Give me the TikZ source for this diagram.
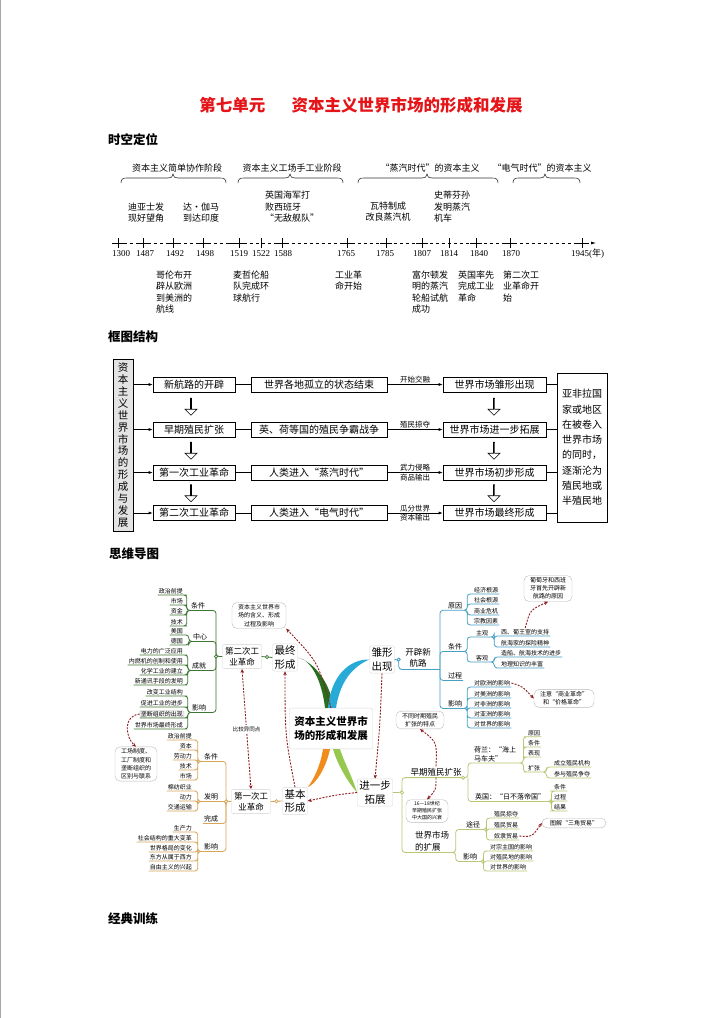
\documentclass[tikz,border=0pt]{standalone}
\usepackage{fontspec}
\setmainfont{Noto Sans CJK SC}
\newfontfamily\numfont{Liberation Serif}
\usetikzlibrary{arrows.meta,shapes.arrows,calc}

\definecolor{titred}{RGB}{228,20,24}
\definecolor{lnkred}{RGB}{140,28,32}
\definecolor{brgreen}{RGB}{40,110,30}
\definecolor{twgreen}{RGB}{62,118,52}
\definecolor{brblue}{RGB}{40,170,215}
\definecolor{twblue}{RGB}{70,160,195}
\definecolor{brorange}{RGB}{240,140,30}
\definecolor{tworange}{RGB}{215,165,90}
\definecolor{brlime}{RGB}{150,200,80}
\definecolor{twlime}{RGB}{185,198,115}

\begin{document}
\begin{tikzpicture}[x=1pt,y=1pt,yscale=-1,
	>={Stealth[length=4pt,width=3.5pt]},
	head/.style={font=\fontsize{12.5}{14}\selectfont\bfseries, anchor=west, inner sep=0pt},
	stage/.style={font=\fontsize{9}{11}\selectfont, inner sep=0pt},
	brc/.style={line width=0.6pt, draw=black!80},
	evt/.style={font=\fontsize{9}{11.4}\selectfont, align=left, inner sep=0pt},
	yr/.style={font=\numfont\fontsize{9}{10}\selectfont, inner sep=0pt},
	axis/.style={line width=0.6pt, dash pattern=on 3pt off 3pt, -{Latex[length=5pt,width=3pt]}},
	tick/.style={line width=0.6pt},
	lbox/.style={draw, line width=0.6pt, fill=gray!22, minimum width=20pt, minimum height=172pt, inner sep=2pt, align=center, font=\fontsize{10.5}{11.9}\selectfont},
	fbox/.style={draw, line width=0.6pt, minimum height=15pt, inner sep=1pt, font=\fontsize{10}{12}\selectfont},
	colA/.style={fbox, minimum width=82pt},
	colB/.style={fbox, minimum width=136pt},
	colC/.style={fbox, minimum width=103pt},
	rbox/.style={draw, line width=0.6pt, minimum width=50pt, minimum height=149pt, align=center, font=\fontsize{10}{15.3}\selectfont},
	lab/.style={font=\fontsize{7.5}{9}\selectfont, inner sep=1pt},
	fl/.style={line width=0.6pt, -{Latex[length=4pt,width=3pt]}},
	hol/.style={single arrow, draw, line width=0.6pt, shape border rotate=270, minimum height=17pt, minimum width=12pt, single arrow head extend=3pt, single arrow head indent=0pt, inner sep=0pt},
	leaf/.style={font=\fontsize{6}{7}\selectfont, inner sep=1pt},
	leafbox/.style={leaf, draw=gray!45, fill=gray!8, rounded corners=1.5pt},
	sub/.style={font=\fontsize{7}{9}\selectfont, inner sep=1pt, align=left},
	mid/.style={font=\fontsize{8.5}{11.5}\selectfont, align=center, inner sep=1.5pt},
	midbox/.style={mid, draw=gray!35, rounded corners=2pt, fill=white, inner sep=2.5pt},
	main/.style={font=\fontsize{10.5}{13.5}\selectfont, align=center, draw=gray!30, rounded corners=2pt, fill=white, inner sep=2pt},
	ctrbox/.style={font=\fontsize{10.5}{14.5}\selectfont\bfseries, align=center, draw=gray!30, fill=white, rounded corners=2pt, inner xsep=5pt, inner ysep=8pt},
	note/.style={font=\fontsize{6}{8.2}\selectfont, align=center, draw=gray!55, rounded corners=5pt, fill=white, inner xsep=6pt, inner ysep=2pt},
	twigG/.style={draw=twgreen, line width=0.8pt, rounded corners=3pt},
	twigB/.style={draw=twblue, line width=0.8pt, rounded corners=3pt},
	twigO/.style={draw=tworange, line width=0.8pt, rounded corners=3pt},
	twigL/.style={draw=twlime, line width=0.8pt, rounded corners=3pt},
	link/.style={draw=lnkred, line width=0.9pt, dash pattern=on 2pt off 1.3pt, ->}
	]
	\useasboundingbox (0,0) rectangle (720,1018);
	\draw[gray!70, line width=1pt] (0.5,0) -- (0.5,1018);
	
	% Title
	\node[font=\fontsize{16.5}{18}\selectfont\bfseries, text=titred, inner sep=0pt] (title) at (361,105) {第七单元\hspace{1.6em}资本主义世界市场的形成和发展};
	% Headings
	\node[head] (hd1) at (108,140) {时空定位};
	\node[head] (hd2) at (108,337) {框图结构};
	\node[head] (hd3) at (109,554) {思维导图};
	\node[head] (hd4) at (108,919) {经典训练};
	
	%%%%%%%% Time line %%%%%%%%
	% Stage Text
	\node[stage] (st1) at (177,168) {资本主义简单协作阶段};
	\node[stage] (st2) at (292,168) {资本主义工场手工业阶段};
	\node[stage] (st3) at (430,168) {“蒸汽时代”的资本主义};
	\node[stage] (st4) at (542,168) {“电气时代”的资本主义};
	% Braces
	\draw[brc] (121,183) .. controls (121,179) and (123,178) .. (127,178) -- (168,178) .. controls (171,178) and (173,177) .. (173,174) .. controls (173,177) and (175,178) .. (178,178) -- (220,178) .. controls (224,178) and (226,179) .. (226,183);
	\draw[brc] (238,183) .. controls (238,179) and (240,178) .. (244,178) -- (285,178) .. controls (288,178) and (290,177) .. (290,174) .. controls (290,177) and (292,178) .. (295,178) -- (337,178) .. controls (341,178) and (343,179) .. (343,183);
	\draw[brc] (358,183) .. controls (358,179) and (360,178) .. (364,178) -- (422,178) .. controls (425,178) and (427,177) .. (427,174) .. controls (427,177) and (429,178) .. (432,178) -- (492,178) .. controls (496,178) and (498,179) .. (498,183);
	\draw[brc] (513,183) .. controls (513,179) and (515,178) .. (519,178) -- (540,178) .. controls (543,178) and (545,177) .. (545,174) .. controls (545,177) and (547,178) .. (550,178) -- (574,178) .. controls (578,178) and (580,179) .. (580,183);
	
	% Events above
	\node[evt, anchor=south west] (e1) at (128,222.5) {迪亚士发\\现好望角};
	\node[evt, anchor=south west] (e2) at (183,222.5) {达·伽马\\到达印度};
	\node[evt, anchor=south west] (e3) at (265,222.5) {英国海军打\\败西班牙\\“无敌舰队”};
	\node[evt, anchor=south, align=center] (e4) at (388,221.5) {瓦特制成\\改良蒸汽机};
	\node[evt, anchor=south west] (e5) at (434,222.5) {史蒂芬孙\\发明蒸汽\\机车};
	
	% Axis
	\draw[axis] (112,243) -- (596,243);
	\draw[tick] (226,243) -- (239,243);
	\draw[tick] (118,238) -- (118,248) (112,243) -- (124,243);
	\draw[tick] (143,238) -- (143,248) (137,243) -- (149,243);
	\draw[tick] (173,238) -- (173,248) (167,243) -- (179,243);
	\draw[tick] (203,238) -- (203,248) (197,243) -- (209,243);
	\draw[tick] (239,238) -- (239,248) (233,243) -- (245,243);
	\draw[tick] (261,238) -- (261,248);
	\draw[tick] (282,238) -- (282,248) (276,243) -- (288,243);
	\draw[tick] (347,238) -- (347,248) (341,243) -- (353,243);
	\draw[tick] (386,238) -- (386,248) (380,243) -- (392,243);
	\draw[tick] (422,238) -- (422,248) (416,243) -- (428,243);
	\draw[tick] (449,238) -- (449,248);
	\draw[tick] (476,238) -- (476,248) (470,243) -- (482,243);
	\draw[tick] (510,238) -- (510,248) (504,243) -- (516,243);
	\draw[tick] (582,238) -- (582,248) (576,243) -- (588,243);
	
	% Years
	\node[yr] (y1300) at (121,254) {1300};
	\node[yr] (y1487) at (145,254) {1487};
	\node[yr] (y1492) at (175,254) {1492};
	\node[yr] (y1498) at (205,254) {1498};
	\node[yr] (y1519) at (239,254) {1519};
	\node[yr] (y1522) at (261,254) {1522};
	\node[yr] (y1588) at (283,254) {1588};
	\node[yr] (y1765) at (346,254) {1765};
	\node[yr] (y1785) at (385,254) {1785};
	\node[yr] (y1807) at (422,254) {1807};
	\node[yr] (y1814) at (449,254) {1814};
	\node[yr] (y1840) at (479,254) {1840};
	\node[yr] (y1870) at (511,254) {1870};
	\node[yr, anchor=west] (y1945) at (571,254) {1945({\rmfamily 年})};
	
	% Events below
	\node[evt, anchor=north west] (e6) at (156,270.5) {哥伦布开\\辟从欧洲\\到美洲的\\航线};
	\node[evt, anchor=north west] (e7) at (233,270.5) {麦哲伦船\\队完成环\\球航行};
	\node[evt, anchor=north west] (e8) at (335,270.5) {工业革\\命开始};
	\node[evt, anchor=north west] (e9) at (412,270.5) {富尔顿发\\明的蒸汽\\轮船试航\\成功};
	\node[evt, anchor=north west] (e10) at (458,270.5) {英国率先\\完成工业\\革命};
	\node[evt, anchor=north west] (e11) at (503,270.5) {第二次工\\业革命开\\始};
	
	%%%%%%%% Frame chart %%%%%%%%
	\node[lbox] (src) at (123,445) {资\\本\\主\\义\\世\\界\\市\\场\\的\\形\\成\\与\\发\\展};
	\node[rbox] (dst) at (582,447.5) {亚非拉国\\家或地区\\在被卷入\\世界市场\\的同时，\\逐渐沦为\\殖民地或\\半殖民地};
	
	\node[colA] (r1a) at (194,384.5) {新航路的开辟};
	\node[colB] (r1b) at (319,384.5) {世界各地孤立的状态结束};
	\node[colC] (r1c) at (494.5,384.5) {世界市场雏形出现};
	\node[colA] (r2a) at (194,429.5) {早期殖民扩张};
	\node[colB] (r2b) at (319,429.5) {英、荷等国的殖民争霸战争};
	\node[colC] (r2c) at (494.5,429.5) {世界市场进一步拓展};
	\node[colA] (r3a) at (194,472.5) {第一次工业革命};
	\node[colB] (r3b) at (319,472.5) {人类进入“蒸汽时代”};
	\node[colC] (r3c) at (494.5,472.5) {世界市场初步形成};
	\node[colA] (r4a) at (194,513) {第二次工业革命};
	\node[colB] (r4b) at (319,513) {人类进入“电气时代”};
	\node[colC] (r4c) at (494.5,513) {世界市场最终形成};
	
	% Hollow arrows
	\node[hol] (d1) at (191,406.5) {};
	\node[hol] (d2) at (191,450.5) {};
	\node[hol] (d3) at (191,493) {};
	\node[hol] (d4) at (494,406.5) {};
	\node[hol] (d5) at (494,450.5) {};
	\node[hol] (d6) at (494,493) {};
	
	% Row connectors
	\draw[fl] (src.east |- r1a) -- (r1a);
	\draw[fl] (src.east |- r2a) -- (r2a);
	\draw[fl] (src.east |- r3a) -- (r3a);
	\draw[fl] (src.east |- r4a) -- (r4a);
	\draw[tick] (r1a) -- (r1b);
	\draw[tick] (r2a) -- (r2b);
	\draw[tick] (r3a) -- (r3b);
	\draw[tick] (r4a) -- (r4b);
	\draw[fl] (r1b) -- node[lab, above] (a1) {开始交融} (r1c);
	\draw[fl] (r2b) -- node[lab, above] (a2) {殖民掠夺} (r2c);
	\draw[fl] (r3b) -- node[lab, above] (a3) {武力侵略} node[lab, below] (a3b) {商品输出} (r3c);
	\draw[fl] (r4b) -- node[lab, above] (a4) {瓜分世界} node[lab, below] (a4b) {资本输出} (r4c);
	\draw[tick] (r1c) -- (dst.west |- r1c);
	\draw[tick] (r2c) -- (dst.west |- r2c);
	\draw[tick] (r3c) -- (dst.west |- r3c);
	\draw[tick] (r4c) -- (dst.west |- r4c);
	
	%%%%%%%% Mind map %%%%%%%%
	% Centre and main nodes
	\node[ctrbox] (ctr) at (331,728.5) {资本主义世界市\\场的形成和发展};
	\node[main] (zz) at (285,657.5) {最终\\形成};
	\node[main] (cx) at (382,659.5) {雏形\\出现};
	\node[main] (jb) at (295,801) {基本\\形成};
	\node[main] (jy) at (375,792.5) {进一步\\拓展};
	\node[midbox] (c2) at (242,656.5) {第二次工\\业革命};
	\node[midbox] (c1) at (251,801.5) {第一次工\\业革命};
	\node[mid] (kp) at (418,658) {开辟新\\航路};
	\node[mid] (zq) at (436,772) {早期殖民扩张};
	\node[mid, align=left] (sk) at (432,841) {世界市场\\的扩展};
	
	% Notes
	\node[note] (nA) at (259,615.5) {资本主义世界市\\场的含义、形成\\过程及影响};
	\node[note] (nB) at (136,764) {工场制度、\\工厂制度和\\垄断组织的\\区别与联系};
	\node[note] (nC) at (548,588.5) {葡萄牙和西班\\牙首先开辟新\\航路的原因};
	\node[note] (nD) at (564,698.5) {注意“商业革命”\\和“价格革命”};
	\node[note] (nE) at (420,720) {不同时期殖民\\扩张的特点};
	\node[note, font=\fontsize{5}{7}\selectfont] (nF) at (427,811) {16—18世纪\\早期殖民扩张\\中大国的兴衰};
	\node[note, minimum width=64pt] (nG) at (574,823) {图解“三角贸易”};
	
	% Second industrial revolution
	\node[sub] (ga) at (198,606) {条件};
	\node[sub] (gb) at (200,637) {中心};
	\node[sub] (gc) at (199,666) {成就};
	\node[sub] (gd) at (199,708) {影响};
	\node[leaf, anchor=east] (ga1) at (184,591) {政治前提};
	\node[leaf, anchor=east] (ga2) at (184,601) {市场};
	\node[leaf, anchor=east] (ga3) at (184,611) {资金};
	\node[leaf, anchor=east] (ga4) at (184,622) {技术};
	\node[leaf, anchor=east] (gb1) at (184,631) {美国};
	\node[leaf, anchor=east] (gb2) at (184,641) {德国};
	\node[leaf, anchor=east] (gc1) at (184,651) {电力的广泛应用};
	\node[leaf, anchor=east] (gc2) at (184,661) {内燃机的创制和使用};
	\node[leaf, anchor=east] (gc3) at (184,671) {化学工业的建立};
	\node[leaf, anchor=east] (gc4) at (184,681) {新通讯手段的发明};
	\node[leaf, anchor=east] (gd1) at (184,692) {改变工业结构};
	\node[leaf, anchor=east] (gd2) at (184,703) {促进工业的进步};
	\node[leafbox, anchor=east] (gd3) at (184,714) {垄断组织的出现};
	\node[leaf, anchor=east] (gd4) at (184,725) {世界市场最终形成};
	
	\coordinate (spG) at (216,0);
	\draw[twigG] (c2.west) -- (c2.west -| spG) |- (ga.south east) -- (ga.south west);
	\draw[twigG] (c2.west -| spG) |- (gb.south east) -- (gb.south west);
	\draw[twigG] (c2.west -| spG) |- (gc.south east) -- (gc.south west);
	\draw[twigG] (c2.west -| spG) |- (gd.south east) -- (gd.south west);
	\draw[twigG] (ga.south west) -- ++(-3,0) |- (ga1.south east) -- (ga1.south west)
	(ga.south west) -- ++(-3,0) |- (ga2.south east) -- (ga2.south west)
	(ga.south west) -- ++(-3,0) |- (ga3.south east) -- (ga3.south west)
	(ga.south west) -- ++(-3,0) |- (ga4.south east) -- (ga4.south west);
	\draw[twigG] (gb.south west) -- ++(-3,0) |- (gb1.south east) -- (gb1.south west)
	(gb.south west) -- ++(-3,0) |- (gb2.south east) -- (gb2.south west);
	\draw[twigG] (gc.south west) -- ++(-3,0) |- (gc1.south east) -- (gc1.south west)
	(gc.south west) -- ++(-3,0) |- (gc2.south east) -- (gc2.south west)
	(gc.south west) -- ++(-3,0) |- (gc3.south east) -- (gc3.south west)
	(gc.south west) -- ++(-3,0) |- (gc4.south east) -- (gc4.south west);
	\draw[twigG] (gd.south west) -- ++(-3,0) |- (gd1.south east) -- (gd1.south west)
	(gd.south west) -- ++(-3,0) |- (gd2.south east) -- (gd2.south west)
	(gd.south west) -- ++(-3,0) |- (gd3.south east) -- (gd3.south west)
	(gd.south west) -- ++(-3,0) |- (gd4.south east) -- (gd4.south west);
	\draw[twigG] (c2.east) -- (zz.west);
	\filldraw[twigG, fill=white] ($(c2.east)!0.5!(zz.west)$) circle (1.6);
	\filldraw[twigG, fill=white] (c2.west -| spG) circle (1.6);
	
	% First industrial revolution
	\node[sub] (oa) at (211,757) {条件};
	\node[sub] (ob) at (211,797) {发明};
	\node[sub] (oc) at (211,819) {完成};
	\node[sub] (od) at (211,847) {影响};
	\node[leaf, anchor=east] (oa1) at (193,736) {政治前提};
	\node[leaf, anchor=east] (oa2) at (193,746) {资本};
	\node[leaf, anchor=east] (oa3) at (193,756) {劳动力};
	\node[leaf, anchor=east] (oa4) at (193,766) {技术};
	\node[leaf, anchor=east] (oa5) at (193,776) {市场};
	\node[leaf, anchor=east] (ob1) at (193,787) {棉纺织业};
	\node[leaf, anchor=east] (ob2) at (193,797) {动力};
	\node[leaf, anchor=east] (ob3) at (193,807) {交通运输};
	\node[leaf, anchor=east] (od1) at (193,828) {生产力};
	\node[leaf, anchor=east] (od2) at (193,838) {社会结构的重大变革};
	\node[leaf, anchor=east] (od3) at (193,848) {世界格局的变化};
	\node[leaf, anchor=east] (od4) at (193,857) {东方从属于西方};
	\node[leaf, anchor=east] (od5) at (193,867) {自由主义的兴起};
	
	\coordinate (spO) at (226,0);
	\draw[twigO] (c1.west) -- (c1.west -| spO) |- (oa.south east) -- (oa.south west);
	\draw[twigO] (c1.west -| spO) |- (ob.south east) -- (ob.south west);
	\draw[twigO] (c1.west -| spO) |- (oc.south east) -- (oc.south west);
	\draw[twigO] (c1.west -| spO) |- (od.south east) -- (od.south west);
	\draw[twigO] (oa.south west) -- ++(-5,0) |- (oa1.south east) -- (oa1.south west)
	(oa.south west) -- ++(-5,0) |- (oa2.south east) -- (oa2.south west)
	(oa.south west) -- ++(-5,0) |- (oa3.south east) -- (oa3.south west)
	(oa.south west) -- ++(-5,0) |- (oa4.south east) -- (oa4.south west)
	(oa.south west) -- ++(-5,0) |- (oa5.south east) -- (oa5.south west);
	\draw[twigO] (ob.south west) -- ++(-5,0) |- (ob1.south east) -- (ob1.south west)
	(ob.south west) -- ++(-5,0) |- (ob2.south east) -- (ob2.south west)
	(ob.south west) -- ++(-5,0) |- (ob3.south east) -- (ob3.south west);
	\draw[twigO] (od.south west) -- ++(-5,0) |- (od1.south east) -- (od1.south west)
	(od.south west) -- ++(-5,0) |- (od2.south east) -- (od2.south west)
	(od.south west) -- ++(-5,0) |- (od3.south east) -- (od3.south west)
	(od.south west) -- ++(-5,0) |- (od4.south east) -- (od4.south west)
	(od.south west) -- ++(-5,0) |- (od5.south east) -- (od5.south west);
	\draw[twigO] (c1.east) -- (jb.west);
	\filldraw[twigO, fill=white] ($(c1.east)!0.5!(jb.west)$) circle (1.6);
	\filldraw[twigO, fill=white] (c1.west -| spO) circle (1.6);
	
	% New routes
	\node[sub] (ba) at (455,606) {原因};
	\node[sub] (bb) at (455,647) {条件};
	\node[sub] (bc) at (455,676) {过程};
	\node[sub] (bd) at (455,704) {影响};
	\node[leaf] (bp) at (482,633) {主观};
	\node[leaf] (bq) at (482,658) {客观};
	\node[leaf, anchor=west] (ba1) at (473,590) {经济根源};
	\node[leaf, anchor=west] (ba2) at (473,600) {社会根源};
	\node[leaf, anchor=west] (ba3) at (473,611) {商业危机};
	\node[leaf, anchor=west] (ba4) at (473,621) {宗教因素};
	\node[leaf, anchor=west] (bp1) at (500,632) {西、葡王室的支持};
	\node[leaf, anchor=west] (bp2) at (500,643) {航海家的探险精神};
	\node[leaf, anchor=west] (bq1) at (500,653) {造船、航海技术的进步};
	\node[leaf, anchor=west] (bq2) at (500,664) {地理知识的丰富};
	\node[leaf, anchor=west] (bd1) at (473,683) {对欧洲的影响};
	\node[leaf, anchor=west] (bd2) at (473,694) {对美洲的影响};
	\node[leaf, anchor=west] (bd3) at (473,704) {对非洲的影响};
	\node[leaf, anchor=west] (bd4) at (473,714) {对亚洲的影响};
	\node[leaf, anchor=west] (bd5) at (473,724) {对世界的影响};
	
	\coordinate (spB) at (440,0);
	\draw[twigB] (cx.east) -- ++(4,0) |- (kp.south west) -- (kp.south east) -- (kp.south -| spB);
	\draw[twigB] (kp.south -| spB) |- (ba.south west) -- (ba.south east);
	\draw[twigB] (kp.south -| spB) |- (bb.south west) -- (bb.south east);
	\draw[twigB] (kp.south -| spB) |- (bc.south west) -- (bc.south east);
	\draw[twigB] (kp.south -| spB) |- (bd.south west) -- (bd.south east);
	\draw[twigB] (ba.south east) -- ++(4,0) |- (ba1.south west) -- (ba1.south east)
	(ba.south east) -- ++(4,0) |- (ba2.south west) -- (ba2.south east)
	(ba.south east) -- ++(4,0) |- (ba3.south west) -- (ba3.south east)
	(ba.south east) -- ++(4,0) |- (ba4.south west) -- (ba4.south east);
	\draw[twigB] (bb.south east) -- ++(4,0) |- (bp.south west) -- (bp.south east)
	(bb.south east) -- ++(4,0) |- (bq.south west) -- (bq.south east);
	\draw[twigB] (bp.south east) -- ++(5,0) |- (bp1.south west) -- (bp1.south east)
	(bp.south east) -- ++(5,0) |- (bp2.south west) -- (bp2.south east);
	\draw[twigB] (bq.south east) -- ++(5,0) |- (bq1.south west) -- (bq1.south east)
	(bq.south east) -- ++(5,0) |- (bq2.south west) -- (bq2.south east);
	\draw[twigB] (bd.south east) -- ++(4,0) |- (bd1.south west) -- (bd1.south east)
	(bd.south east) -- ++(4,0) |- (bd2.south west) -- (bd2.south east)
	(bd.south east) -- ++(4,0) |- (bd3.south west) -- (bd3.south east)
	(bd.south east) -- ++(4,0) |- (bd4.south west) -- (bd4.south east)
	(bd.south east) -- ++(4,0) |- (bd5.south west) -- (bd5.south east);
	\filldraw[twigB, fill=white] ($(cx.east)+(4,0)$) circle (1.6);
	
	% Colonial expansion
	\node[sub, anchor=west] (hl) at (473,754) {荷兰：“海上\\马车夫”};
	\node[sub, anchor=west] (yg) at (474,797) {英国：“日不落帝国”};
	\node[leaf, anchor=west] (h1) at (527,733) {原因};
	\node[leaf, anchor=west] (h2) at (527,743) {条件};
	\node[leaf, anchor=west] (h3) at (527,753) {表现};
	\node[leaf, anchor=west] (h4) at (527,768) {扩张};
	\node[leaf, anchor=west] (h41) at (553,763) {成立殖民机构};
	\node[leaf, anchor=west] (h42) at (553,774) {参与殖民争夺};
	\node[leaf, anchor=west] (y1) at (553,787) {条件};
	\node[leaf, anchor=west] (y2) at (553,797) {过程};
	\node[leaf, anchor=west] (y3) at (553,807) {结果};
	\node[sub, anchor=west] (sa) at (465,825) {途径};
	\node[sub, anchor=west] (sb) at (462,857) {影响};
	\node[leaf, anchor=west] (s1) at (493,814) {殖民掠夺};
	\node[leaf, anchor=west] (s2) at (493,825) {殖民贸易};
	\node[leaf, anchor=west] (s3) at (493,836) {奴隶贸易};
	\node[leaf, anchor=west] (t1) at (489,847) {对宗主国的影响};
	\node[leaf, anchor=west] (t2) at (489,857) {对殖民地的影响};
	\node[leaf, anchor=west] (t3) at (489,867) {对世界的影响};
	
	\coordinate (spL) at (402,0);
	\coordinate (spH) at (468,0);
	\draw[twigL] (jy.east) -- (jy.east -| spL) |- (zq.south west) -- (zq.south east);
	\draw[twigL] (jy.east -| spL) |- (sk.south west) -- (sk.south east);
	\draw[twigL] (zq.south east) -- (zq.south east -| spH) |- (hl.south west) -- (hl.south east);
	\draw[twigL] (zq.south east -| spH) |- (yg.south west) -- (yg.south east);
	\draw[twigL] (hl.south east) -- ++(6,0) |- (h1.south west) -- (h1.south east)
	(hl.south east) -- ++(6,0) |- (h2.south west) -- (h2.south east)
	(hl.south east) -- ++(6,0) |- (h3.south west) -- (h3.south east)
	(hl.south east) -- ++(6,0) |- (h4.south west) -- (h4.south east);
	\draw[twigL] (h4.south east) -- ++(5,0) |- (h41.south west) -- (h41.south east)
	(h4.south east) -- ++(5,0) |- (h42.south west) -- (h42.south east);
	\draw[twigL] (yg.south east) -- ++(5,0) |- (y1.south west) -- (y1.south east)
	(yg.south east) -- ++(5,0) |- (y2.south west) -- (y2.south east)
	(yg.south east) -- ++(5,0) |- (y3.south west) -- (y3.south east);
	\draw[twigL] (sk.south east) -- ++(5,0) |- (sa.south west) -- (sa.south east)
	(sk.south east) -- ++(5,0) |- (sb.south west) -- (sb.south east);
	\draw[twigL] (sa.south east) -- ++(5,0) |- (s1.south west) -- (s1.south east)
	(sa.south east) -- ++(5,0) |- (s2.south west) -- (s2.south east)
	(sa.south east) -- ++(5,0) |- (s3.south west) -- (s3.south east);
	\draw[twigL] (sb.south east) -- ++(5,0) |- (t1.south west) -- (t1.south east)
	(sb.south east) -- ++(5,0) |- (t2.south west) -- (t2.south east)
	(sb.south east) -- ++(5,0) |- (t3.south west) -- (t3.south east);
	\filldraw[twigL, fill=white] (zq.south east) circle (1.6);
	\filldraw[twigL, fill=white] (jy.east -| spL) circle (1.6);
	
	% Thick branches
	\fill[brgreen] ($(ctr.north)+(-6,0)$) .. controls (322,682) and (312,660) .. (zz.east) .. controls (316,663) and (330,684) .. ($(ctr.north)+(3,0)$) -- cycle;
	\fill[brblue] ($(ctr.north)+(-3,0)$) .. controls (331,675) and (350,659) .. (cx.west) .. controls (352,667) and (340,682) .. ($(ctr.north)+(5,0)$) -- cycle;
	\fill[brorange] ($(ctr.south)+(-8,0)$) .. controls (320,768) and (312,782) .. (jb.north east) .. controls (316,784) and (326,768) .. ($(ctr.south)+(-1,0)$) -- cycle;
	\fill[brlime] ($(ctr.south)+(2,0)$) .. controls (338,766) and (348,782) .. (jy.west) .. controls (352,776) and (344,762) .. ($(ctr.south)+(9,0)$) -- cycle;
	
	% Dashed links
	\draw[link] (ctr.north) .. controls (318,662) .. (nA.south east);
	\draw[link, <->] (c2.south) -- node[leaf, fill=white, font=\fontsize{5.5}{6}\selectfont] (cmp) {比较异同点} (c1.north);
	\draw[link] (jb.north) .. controls (285,735) .. (zz.south);
	\draw[link] (cx.south) .. controls (380,725) .. (jy.north);
	\draw[link] (jy.west) .. controls (335,795) .. (jb.east);
	\draw[link] (gd3.west) .. controls (122,716) and (126,738) .. (nB.north);
	\draw[link] (bp1.north) .. controls (530,610) .. (nC.south);
	\draw[link] (bd1.east) .. controls (522,686) .. (nD.west);
	\draw[link] (zq.north) .. controls (437,742) .. (nE.south);
	\draw[link] (zq.south) .. controls (436,790) .. (nF.north);
	\draw[link] (s3.east) .. controls (532,837) .. (nG.west);
	
\end{tikzpicture}
\end{document}
